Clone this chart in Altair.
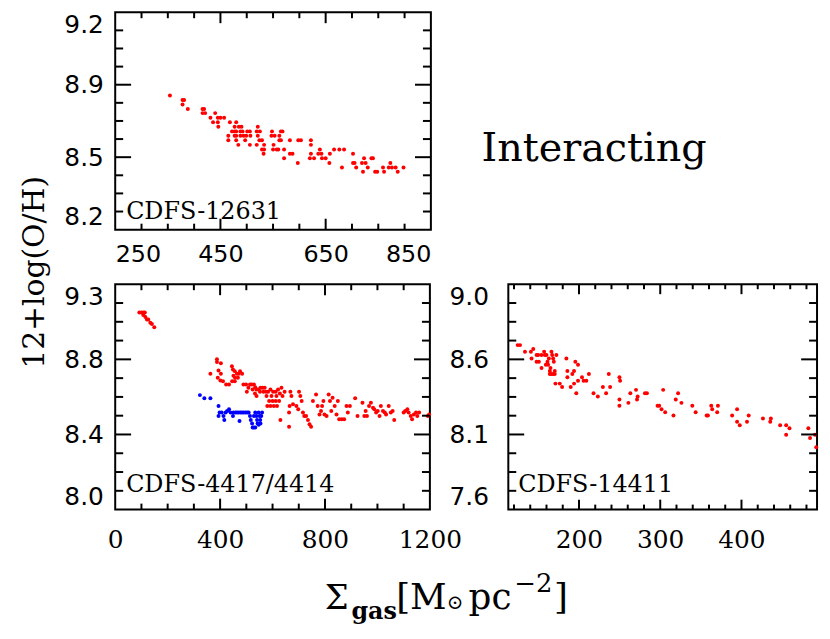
import altair as alt
import pandas as pd

# ---------------- data ----------------
# Panel CDFS-12631 (top left)
TL_X = [354, 378, 381, 378, 388, 416, 419, 416, 421, 440,
        431, 445, 450, 457, 436, 445, 468, 480,
        446, 477, 485, 490, 521,
        472, 477, 480, 488, 492, 501, 506, 519, 525, 548, 565, 568,
        465, 477, 480, 488, 494, 499, 507, 521, 547, 553, 562,
        465, 480, 497, 524, 529, 562, 565, 582, 598, 603, 622,
        484, 506, 519, 533, 551, 622,
        529, 533, 550, 557, 560, 571, 639, 666, 676, 685,
        532, 582, 587, 622, 636, 642, 658, 702,
        571, 620, 628, 643, 650, 723, 737, 740,
        597, 657, 702, 705, 719, 726, 773,
        681, 708, 730, 759, 770, 776, 783, 798,
        721, 744, 748, 761, 787]
TL_Y = [8.817, 8.796, 8.796, 8.776, 8.755, 8.755, 8.755, 8.736, 8.736, 8.736,
        8.715, 8.715, 8.715, 8.715, 8.694, 8.694, 8.694, 8.694,
        8.673, 8.673, 8.673, 8.673, 8.673,
        8.652, 8.652, 8.652, 8.652, 8.652, 8.652, 8.652, 8.652, 8.652, 8.652, 8.652, 8.652,
        8.632, 8.632, 8.632, 8.632, 8.632, 8.632, 8.632, 8.632, 8.632, 8.632, 8.632,
        8.611, 8.611, 8.611, 8.611, 8.611, 8.611, 8.611, 8.611, 8.611, 8.611, 8.611,
        8.590, 8.590, 8.590, 8.590, 8.590, 8.590,
        8.569, 8.569, 8.569, 8.569, 8.569, 8.569, 8.569, 8.569, 8.569, 8.569,
        8.549, 8.549, 8.549, 8.549, 8.549, 8.549, 8.549, 8.549,
        8.528, 8.528, 8.528, 8.528, 8.528, 8.528, 8.528, 8.528,
        8.507, 8.507, 8.507, 8.507, 8.507, 8.507, 8.507,
        8.486, 8.486, 8.486, 8.486, 8.486, 8.486, 8.486, 8.486,
        8.466, 8.466, 8.466, 8.466, 8.466]

# Panel CDFS-4417/4414 (bottom left), red component
BL_RED_X = [92, 100, 107, 113, 107, 115, 121, 126, 134, 140, 149,
            388, 388, 403, 445, 363, 394, 403, 391, 401, 411, 423, 434,
            449, 456, 464, 471, 476, 484, 451, 457, 468, 446, 456,
            489, 499, 508, 502, 514, 520, 529, 534, 524, 539, 547,
            554, 562, 570, 533, 552, 539, 565, 575, 583, 592, 602,
            612, 621, 634, 628, 577, 587, 600, 612, 625, 580, 592,
            605, 617, 638, 646, 615, 596,
            668, 672, 665, 663, 630, 663, 678, 691, 698, 701, 706,
            711, 716, 721, 728, 735, 741, 747, 754, 766, 772, 779,
            785, 789, 794, 798, 806, 814, 819, 824, 829, 837, 844,
            849, 854, 864, 873, 882, 887, 895, 915, 924, 943, 950,
            955, 960, 968, 975, 983, 988, 995, 1001, 1008, 1013, 1021,
            1028, 1033, 1043, 1051, 1058, 1064, 1100, 1106, 1114, 1119, 1127,
            1132, 1139, 1147, 1152, 1159, 1192, 1197]
BL_RED_Y = [9.093, 9.093, 9.093, 9.093, 9.080, 9.068, 9.055, 9.055, 9.036, 9.029, 9.012,
            8.834, 8.819, 8.812, 8.795, 8.753, 8.771, 8.753, 8.731, 8.716, 8.712, 8.694, 8.694,
            8.777, 8.768, 8.753, 8.753, 8.768, 8.753, 8.742, 8.731, 8.731, 8.712, 8.712,
            8.694, 8.694, 8.676, 8.654, 8.694, 8.694, 8.694, 8.679, 8.666, 8.666, 8.666,
            8.676, 8.676, 8.676, 8.644, 8.654, 8.630, 8.654, 8.654, 8.654, 8.666, 8.654,
            8.654, 8.666, 8.676, 8.644, 8.630, 8.602, 8.602, 8.602, 8.602, 8.574, 8.574,
            8.574, 8.574, 8.630, 8.654, 8.630, 8.630,
            8.654, 8.630, 8.574, 8.538, 8.497, 8.459, 8.584, 8.574, 8.556, 8.654, 8.630,
            8.602, 8.538, 8.519, 8.519, 8.497, 8.473, 8.459, 8.602, 8.639, 8.574, 8.528,
            8.547, 8.574, 8.602, 8.528, 8.519, 8.639, 8.602, 8.547, 8.620, 8.574, 8.528,
            8.602, 8.501, 8.501, 8.501, 8.574, 8.538, 8.574, 8.617, 8.519, 8.593, 8.519,
            8.547, 8.519, 8.574, 8.593, 8.565, 8.556, 8.538, 8.547, 8.519, 8.574, 8.547,
            8.538, 8.528, 8.574, 8.538, 8.547, 8.497, 8.538, 8.547, 8.556, 8.538, 8.519,
            8.501, 8.528, 8.538, 8.519, 8.538, 8.519, 8.528]

# Panel CDFS-4417/4414 (bottom left), blue component
BL_BLUE_X = [323, 340, 363, 394, 394, 398, 406, 413, 416, 421, 427, 434, 440, 449,
             451, 459, 465, 471, 474, 478, 484, 490, 497, 503, 509, 514, 517, 522,
             524, 529, 534, 529, 534, 539, 541, 543, 547, 551, 553, 557, 560, 554, 547]
BL_BLUE_Y = [8.635, 8.617, 8.617, 8.574, 8.519, 8.538, 8.538, 8.519, 8.497, 8.538, 8.547, 8.556, 8.538, 8.519,
             8.538, 8.538, 8.538, 8.538, 8.492, 8.538, 8.538, 8.538, 8.538, 8.538, 8.538, 8.519, 8.497, 8.477,
             8.455, 8.455, 8.455, 8.519, 8.538, 8.519, 8.497, 8.477, 8.538, 8.519, 8.497, 8.519, 8.538, 8.477, 8.470]

# Panel CDFS-14411 (bottom right)
BR_X = [124.5, 127.4, 133.5, 140.8, 143.7, 141.6, 147.8, 149.8, 147.8, 150.6,
        153.9, 153.9, 157.1, 158.0, 160.0, 159.2, 161.2, 162.0, 162.9, 164.1,
        164.9, 166.1, 167.0, 168.2, 169.0, 170.2, 166.1, 168.2, 170.2, 172.2,
        164.1, 171.0, 176.3, 179.2, 184.5, 185.7, 185.7, 189.8, 191.8, 193.9,
        193.9, 195.5, 196.7, 198.8, 198.8, 203.7, 205.7, 209.0, 212.2, 217.9,
        223.2, 229.4, 233.4, 236.7, 238.3, 249.8, 250.6, 249.8, 249.8, 260.8,
        263.2, 270.2, 271.4, 272.2, 281.2, 283.6, 296.7, 298.7, 301.6, 303.6,
        306.1, 316.3, 319.1, 322.0, 326.1, 339.5, 343.6, 357.1, 358.7, 362.8,
        364.0, 370.1, 371.0, 388.5, 394.6, 394.6, 397.9, 406.8, 408.9, 426.4,
        435.4, 436.2, 447.6, 455.0, 455.0, 459.1, 482.3, 484.4, 490.5, 492.0]
BR_Y = [8.651, 8.651, 8.609, 8.609, 8.626, 8.566, 8.588, 8.588, 8.545, 8.545,
        8.588, 8.505, 8.609, 8.588, 8.588, 8.526, 8.545, 8.526, 8.566, 8.486,
        8.505, 8.609, 8.588, 8.566, 8.545, 8.486, 8.467, 8.467, 8.467, 8.588,
        8.467, 8.405, 8.405, 8.384, 8.566, 8.486, 8.445, 8.384, 8.467, 8.486,
        8.405, 8.545, 8.343, 8.526, 8.424, 8.445, 8.424, 8.424, 8.467, 8.343,
        8.322, 8.384, 8.343, 8.467, 8.384, 8.445, 8.424, 8.303, 8.263, 8.282,
        8.343, 8.365, 8.303, 8.322, 8.343, 8.343, 8.263, 8.263, 8.241, 8.365,
        8.222, 8.201, 8.303, 8.343, 8.282, 8.263, 8.222, 8.201, 8.201, 8.263,
        8.241, 8.222, 8.263, 8.201, 8.241, 8.161, 8.139, 8.161, 8.201, 8.182,
        8.161, 8.182, 8.139, 8.139, 8.078, 8.120, 8.120, 8.057, 8.078, 7.999]

# axis domains, labelled ticks and minor ticks
TL_XDOM, TL_YDOM = [250, 850], [8.2, 9.2]
TL_XLAB = [250, 450, 650, 850]
TL_YLAB = [8.2, 8.533333, 8.866667, 9.2]
TL_XMAJ, TL_XMIN = [450, 650], [300, 350, 400, 500, 550, 600, 700, 750, 800]
TL_YMAJ = [8.533333, 8.866667]
TL_YMIN = [8.283333, 8.366667, 8.45, 8.616667, 8.7, 8.783333, 8.95, 9.033333, 9.116667]

BL_XDOM, BL_YDOM = [0, 1200], [8.0, 9.25]
BL_XLAB = [0, 400, 800, 1200]
BL_YLAB = [8.0, 8.416667, 8.833333, 9.25]
BL_XMAJ, BL_XMIN = [400, 800], [100, 200, 300, 500, 600, 700, 900, 1000, 1100]
BL_YMAJ = [8.416667, 8.833333]
BL_YMIN = [8.104167, 8.208333, 8.3125, 8.520833, 8.625, 8.729167, 8.9375, 9.041667, 9.145833]

BR_XDOM, BR_YDOM = [113, 493], [7.6, 9.04]
BR_XLAB = [200, 300, 400]
BR_YLAB = [7.6, 8.08, 8.56, 9.04]
BR_XMAJ = [200, 300, 400]
BR_XMIN = [120, 140, 160, 180, 220, 240, 260, 280, 320, 340, 360, 380, 420, 440, 460, 480]
BR_YMAJ = [8.08, 8.56]
BR_YMIN = [7.72, 7.84, 7.96, 8.2, 8.32, 8.44, 8.68, 8.8, 8.92]

# ---------------- helpers ----------------
SANS = "DejaVu Sans"
SERIF = "DejaVu Serif"


def axis(vals, fmt, font, size, pad, flush):
    return alt.Axis(values=vals, format=fmt, labelFont=font, labelFontSize=size,
                    labelColor="black", labelPadding=pad, labelFlush=flush,
                    labelOverlap=False, ticks=False, domain=False, grid=False, title=None)


def points(xs, ys, color, sx, sy, ax, ay):
    return alt.Chart(pd.DataFrame({"x": xs, "y": ys})).mark_circle(
        color=color, size=16, opacity=1).encode(
        x=alt.X("x:Q", scale=sx, axis=ax), y=alt.Y("y:Q", scale=sy, axis=ay))


def ticks(sx, sy, ax, ay, W, H, xmaj, xmin, ymaj, ymin, ylen=(16, 8), xlen=(11, 6)):
    out = []
    for vals, L in ((ymaj, ylen[0]), (ymin, ylen[1])):
        d = pd.DataFrame({"t": vals})
        enc = alt.Y("t:Q", scale=sy, axis=ay)
        out.append(alt.Chart(d).mark_rule(color="black", strokeWidth=2).encode(
            y=enc, x=alt.value(0), x2=alt.value(L)))
        out.append(alt.Chart(d).mark_rule(color="black", strokeWidth=2).encode(
            y=enc, x=alt.value(W - L), x2=alt.value(W)))
    for vals, L in ((xmaj, xlen[0]), (xmin, xlen[1])):
        d = pd.DataFrame({"t": vals})
        enc = alt.X("t:Q", scale=sx, axis=ax)
        out.append(alt.Chart(d).mark_rule(color="black", strokeWidth=2).encode(
            x=enc, y=alt.value(H - L), y2=alt.value(H)))
        out.append(alt.Chart(d).mark_rule(color="black", strokeWidth=2).encode(
            x=enc, y=alt.value(0), y2=alt.value(L)))
    return out


def text(s, x, y, font, size, weight="normal", angle=0, align="left", baseline="alphabetic"):
    mk = dict(font=font, fontSize=size, fontWeight=weight, align=align,
              baseline=baseline, color="black")
    if angle:
        mk["angle"] = angle
    return alt.Chart(pd.DataFrame({"s": [s]})).mark_text(**mk).encode(
        text="s:N", x=alt.value(x), y=alt.value(y))


# ---------------- panels ----------------
W1, H1 = 318, 219
sx1 = alt.Scale(domain=TL_XDOM, nice=False, zero=False)
sy1 = alt.Scale(domain=TL_YDOM, nice=False, zero=False)
ax1 = axis(TL_XLAB, "d", SANS, 24, 13, True)
ay1 = axis(TL_YLAB, ".1f", SANS, 25, 12, True)
top = alt.layer(
    points(TL_X, TL_Y, "#ff0000", sx1, sy1, ax1, ay1),
    *ticks(sx1, sy1, ax1, ay1, W1, H1, TL_XMAJ, TL_XMIN, TL_YMAJ, TL_YMIN),
    text("CDFS-12631", 11, 208, SERIF, 24),
    text("Interacting", 369, 150, SERIF, 40),
).properties(width=W1, height=H1)

W2, H2 = 317, 227
sx2 = alt.Scale(domain=BL_XDOM, nice=False, zero=False)
sy2 = alt.Scale(domain=BL_YDOM, nice=False, zero=False)
ax2 = axis(BL_XLAB, "d", SERIF, 25, 18, False)
ay2 = axis(BL_YLAB, ".1f", SANS, 25, 12, True)
bl = alt.layer(
    points(BL_RED_X, BL_RED_Y, "#ff0000", sx2, sy2, ax2, ay2),
    points(BL_BLUE_X, BL_BLUE_Y, "#0000ff", sx2, sy2, ax2, ay2),
    *ticks(sx2, sy2, ax2, ay2, W2, H2, BL_XMAJ, BL_XMIN, BL_YMAJ, BL_YMIN),
    text("CDFS-4417/4414", 11, 209, SERIF, 24),
    text("12+log(O/H)", -81, -12, SERIF, 30, angle=270, align="center", baseline="middle"),
    text("\u03a3", 211, 327, SERIF, 34),
    text("gas", 238, 337, SERIF, 24, weight="bold"),
    text("[M", 283, 327, SERIF, 36),
    text("\u2299", 334, 327, SERIF, 20),
    text("pc", 356, 327, SERIF, 36),
    text("\u22122", 402, 310, SERIF, 26),
    text("]", 442, 327, SERIF, 36),
).properties(width=W2, height=H2)

W3, H3 = 311, 227
sx3 = alt.Scale(domain=BR_XDOM, nice=False, zero=False)
sy3 = alt.Scale(domain=BR_YDOM, nice=False, zero=False)
ax3 = axis(BR_XLAB, "d", SERIF, 25, 18, False)
ay3 = axis(BR_YLAB, ".1f", SANS, 25, 20, True)
br = alt.layer(
    points(BR_X, BR_Y, "#ff0000", sx3, sy3, ax3, ay3),
    *ticks(sx3, sy3, ax3, ay3, W3, H3, BR_XMAJ, BR_XMIN, BR_YMAJ, BR_YMIN, xlen=(10, 5)),
    text("CDFS-14411", 10, 209, SERIF, 24),
).properties(width=W3, height=H3)

bottom = alt.hconcat(bl, br, spacing=79, bounds="flush")
chart = alt.vconcat(top, bottom, spacing=55, bounds="flush").properties(
    padding={"left": 10, "top": 0, "right": 2, "bottom": 0},
    background="white",
).configure_view(stroke="black", strokeWidth=2)

chart.save("out.html", embed_options={"renderer": "svg", "actions": False})
